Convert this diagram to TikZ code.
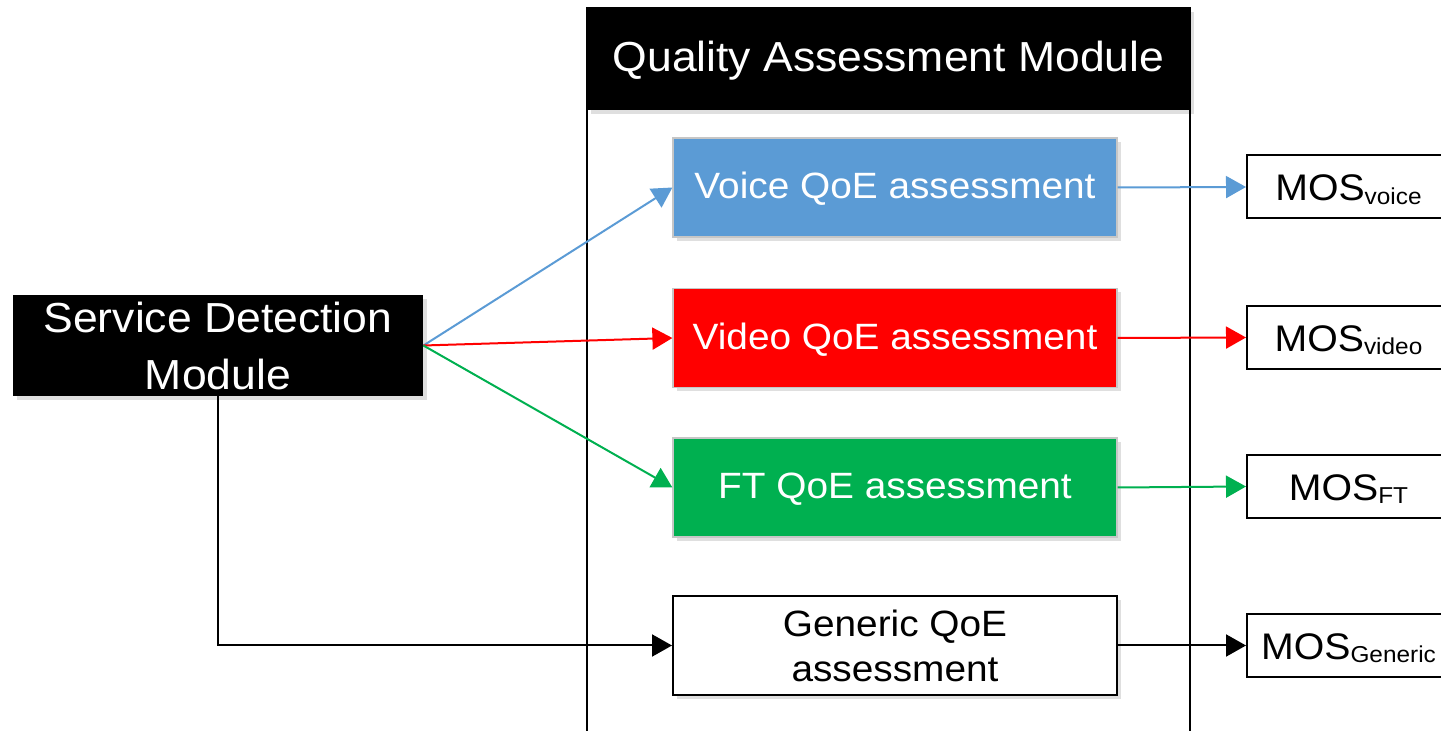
\documentclass[tikz,border=0pt]{standalone}
\usepackage{fontspec}
\setmainfont[FakeStretch=1.06]{Liberation Sans}
\usepackage{tikz}
\usetikzlibrary{arrows.meta}
\usetikzlibrary{shadows}
\usetikzlibrary{positioning}

\definecolor{voiceblue}{HTML}{5B9BD5}
\definecolor{videored}{HTML}{FF0000}
\definecolor{ftgreen}{HTML}{00B050}

\newcommand{\mossub}[1]{MOS\raisebox{-0.1em}{\fontsize{11.5}{12}\selectfont #1}}

\begin{document}
\begin{tikzpicture}[x=0.5pt,y=-0.5pt]
\tikzset{shade box/.style={drop shadow={opacity=0.25,shadow xshift=2pt,shadow yshift=-2pt}}}
\tikzset{module/.style={shade box, fill=black, text=white, inner sep=0pt, align=center}}
\tikzset{qoe/.style={shade box, draw=gray!45, line width=0.6pt, text=white, minimum width=222pt, minimum height=49.5pt, inner sep=0pt, align=center, font=\fontsize{18.3}{22.5}\selectfont}}
\tikzset{mos/.style={draw, line width=1pt, fill=white, minimum width=101.5pt, minimum height=31.5pt, inner sep=0pt, text height=13.6pt, text depth=0pt, font=\fontsize{18.5}{20}\selectfont}}
\tikzset{link/.style={line width=1pt, -{Triangle[length=10pt,width=11pt]}}}

\useasboundingbox (0,0) rectangle (1441,731);

% quality assessment frame
\node[module, minimum width=301.5pt, minimum height=51pt, text height=13pt, text depth=0pt, font=\fontsize{21}{24}\selectfont] (qam) at (888.5,59) {Quality Assessment Module};
\draw[line width=1pt] (qam.south west) -- (qam.north west) -- (qam.north east) -- (qam.south east);
\draw[line width=1pt] (qam.south west) -- ++(0,700);
\draw[line width=1pt] (qam.south east) -- ++(0,700);

\node[module, minimum width=205pt, minimum height=50.5pt, font=\fontsize{21}{28.5}\selectfont] (sdm) at (218,345.5) {Service Detection\\Module};

\node[qoe, fill=voiceblue, text height=11.5pt, text depth=0pt] (voice) at (895,187.5) {Voice QoE assessment};
\node[qoe, fill=videored, text height=11.5pt, text depth=0pt] (video) at (895,338) {Video QoE assessment};
\node[qoe, fill=ftgreen, text height=11.5pt, text depth=0pt] (ft) at (895,487.5) {FT QoE assessment};
\node[qoe, draw=black, line width=1pt, fill=white, text=black] (generic) at (895,645.5) {Generic QoE\\assessment};

\node[mos] (mosvoice) at (1348.5,187) {\mossub{voice}};
\node[mos] (mosvideo) at (1348.5,337.5) {\mossub{video}};
\node[mos] (mosft) at (1348.5,486.5) {\mossub{FT}};
\node[mos] (mosgeneric) at (1348.5,645.5) {\mossub{Generic}};

\draw[link, voiceblue] (sdm.east) -- (voice.west);
\draw[link, videored] (sdm.east) -- (video.west);
\draw[link, ftgreen] (sdm.east) -- (ft.west);
\draw[link] (sdm.south) |- (generic.west);

\draw[link, voiceblue] (voice.east) -- (mosvoice.west);
\draw[link, videored] (video.east) -- (mosvideo.west);
\draw[link, ftgreen] (ft.east) -- (mosft.west);
\draw[link] (generic.east) -- (mosgeneric.west);
\end{tikzpicture}
\end{document}
